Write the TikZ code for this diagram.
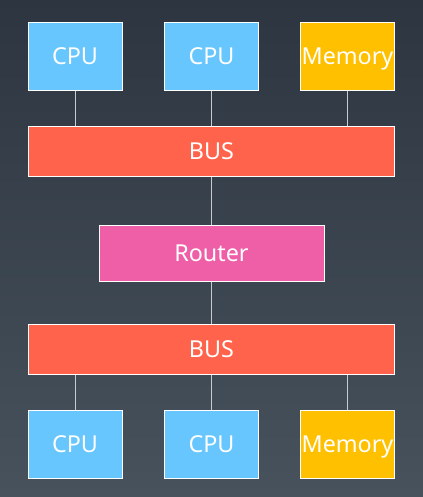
\documentclass[tikz,border=0pt]{standalone}
\usepackage{fontspec}
\setmainfont{Noto Sans}
\usetikzlibrary{positioning}
\definecolor{bgtop}{RGB}{45, 53, 64}
\definecolor{bgbottom}{RGB}{71, 82, 93}
\definecolor{cpublue}{RGB}{102, 198, 253}
\definecolor{memyellow}{RGB}{255, 192, 0}
\definecolor{busred}{RGB}{255, 99, 76}
\definecolor{routerpink}{RGB}{238, 95, 168}
\definecolor{wire}{RGB}{200, 204, 208}

\begin{document}
\begin{tikzpicture}[
        x=0.75pt, y=-0.75pt,
        unit/.style={rectangle, draw=white, line width=0.75pt, inner sep=0pt, text=white, text height=12.5pt, text depth=0pt, font=\fontsize{17.5}{20}\selectfont},
        chip/.style={unit, minimum width=70.5pt, minimum height=51pt},
        busbar/.style={unit, fill=busred, minimum width=275pt, minimum height=38pt},
        wireline/.style={draw=wire, line width=0.75pt}
    ]
        \shade[top color=bgtop, bottom color=bgbottom] (0,0) rectangle (423,497);
        \useasboundingbox (0,0) rectangle (423,497);

        % upper group
        \node[chip, fill=cpublue] (cpuA) at (75,56) {CPU};
        \node[chip, fill=cpublue] (cpuB) at (211.5,56) {CPU};
        \node[chip, fill=memyellow] (memA) at (347.5,56) {Memory};
        \node[busbar] (busA) at (211.5,151.5) {BUS};

        \node[unit, fill=routerpink, minimum width=168.75pt, minimum height=42pt] (router) at (211.5,253) {Router};

        % lower group
        \node[busbar] (busB) at (211.5,349.5) {BUS};
        \node[chip, fill=cpublue] (cpuC) at (75,444) {CPU};
        \node[chip, fill=cpublue] (cpuD) at (211.5,444) {CPU};
        \node[chip, fill=memyellow] (memB) at (347.5,444) {Memory};

        \draw[wireline] (cpuA.south) -- (cpuA.south |- busA.north);
        \draw[wireline] (cpuB.south) -- (cpuB.south |- busA.north);
        \draw[wireline] (memA.south) -- (memA.south |- busA.north);
        \draw[wireline] (busA.south) -- (router.north);
        \draw[wireline] (router.south) -- (busB.north);
        \draw[wireline] (cpuC.north) -- (cpuC.north |- busB.south);
        \draw[wireline] (cpuD.north) -- (cpuD.north |- busB.south);
        \draw[wireline] (memB.north) -- (memB.north |- busB.south);
    \end{tikzpicture}
\end{document}
